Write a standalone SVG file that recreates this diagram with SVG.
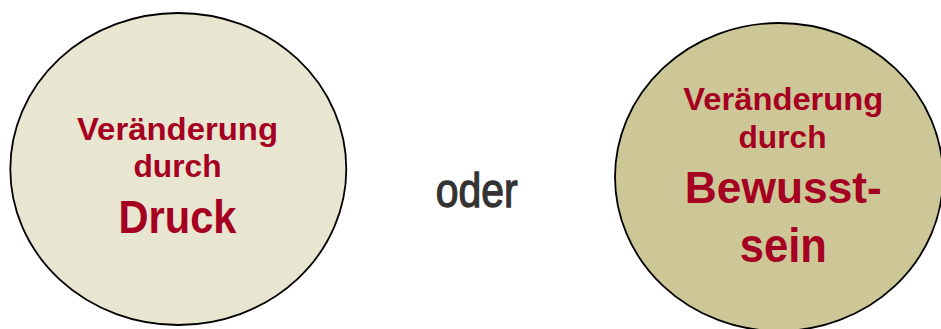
<svg xmlns="http://www.w3.org/2000/svg" width="941" height="329" viewBox="0 0 941 329">
<style>
.bg{fill:#ffffff}
.c{stroke:#000000;stroke-width:1.8}
.t{font-family:"Liberation Sans",Arial,sans-serif;font-weight:bold;fill:#A50021;text-anchor:middle}
.o{font-family:"Liberation Sans",Arial,sans-serif;fill:#333333;stroke:#333333;stroke-width:1.3;text-anchor:middle}
</style>
<rect class="bg" x="0" y="0" width="941" height="329"/>
<g id="node-druck">
<ellipse class="c" cx="178.3" cy="169" rx="168" ry="156" fill="#E8E5D1"/>
<text class="t" x="177.5" y="140" font-size="32" textLength="201" lengthAdjust="spacingAndGlyphs">Veränderung</text>
<text class="t" x="177.5" y="176.7" font-size="32" textLength="88" lengthAdjust="spacingAndGlyphs">durch</text>
<text class="t" x="177.5" y="233.3" font-size="47" textLength="118" lengthAdjust="spacingAndGlyphs">Druck</text>
</g>
<g id="node-oder">
<text class="o" x="476.7" y="206.7" font-size="49" textLength="82" lengthAdjust="spacingAndGlyphs">oder</text>
</g>
<g id="node-bewusstsein">
<ellipse class="c" cx="779" cy="177" rx="164" ry="154" fill="#CDC798"/>
<text class="t" x="783.3" y="110" font-size="32" textLength="200" lengthAdjust="spacingAndGlyphs">Veränderung</text>
<text class="t" x="782.5" y="148.3" font-size="32" textLength="88" lengthAdjust="spacingAndGlyphs">durch</text>
<text class="t" x="783.3" y="203.3" font-size="44" textLength="197" lengthAdjust="spacingAndGlyphs">Bewusst-</text>
<text class="t" x="783.3" y="261.7" font-size="48" textLength="87" lengthAdjust="spacingAndGlyphs">sein</text>
</g>
<g id="connectors"></g>
</svg>
